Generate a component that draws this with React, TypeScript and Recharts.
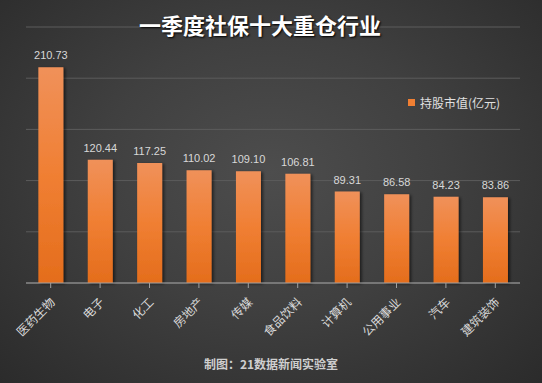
import React from 'react'
import { BarChart, Bar, XAxis, YAxis, CartesianGrid, LabelList } from 'recharts'

const industries = ['医药生物', '电子', '化工', '房地产', '传媒', '食品饮料', '计算机', '公用事业', '汽车', '建筑装饰']
const holdings = [210.73, 120.44, 117.25, 110.02, 109.1, 106.81, 89.31, 86.58, 84.23, 83.86]
const yTicks = [0, 50, 100, 150, 200, 250]

const data = industries.map((name, i) => ({ name, value: holdings[i] }))

const CJK = '"Noto Sans CJK SC", "Noto Sans", sans-serif'

function AngledTick({ x, y, payload }: any) {
  return (
    <text
      x={x + 5}
      y={y + 13}
      transform={`rotate(-45, ${x + 5}, ${y + 13})`}
      textAnchor="end"
      fill="#d8d8d8"
      fontSize={12}
      fontFamily={CJK}
    >
      {payload.value}
    </text>
  )
}

export default function App() {
  return (
    <div
      style={{
        position: 'absolute',
        left: 0,
        top: 0,
        width: 542,
        height: 383,
        overflow: 'hidden',
        background: 'radial-gradient(ellipse at 50% 45%, #4d4d4d 0%, #404040 45%, #2b2b2b 100%)',
      }}
    >
      <svg width={0} height={0} style={{ position: 'absolute' }}>
        <defs>
          <linearGradient id="barFill" x1="0" y1="0" x2="0" y2="1">
            <stop offset="0%" stopColor="#f0915a" />
            <stop offset="50%" stopColor="#f07f33" />
            <stop offset="100%" stopColor="#e46d1c" />
          </linearGradient>
          <filter id="barShadow" x="-20%" y="-5%" width="150%" height="110%">
            <feDropShadow dx={2} dy={1} stdDeviation={1.5} floodColor="#000" floodOpacity={0.55} />
          </filter>
        </defs>
      </svg>

      <BarChart
        width={542}
        height={383}
        data={data}
        margin={{ top: 27, right: 22, bottom: 40, left: 26 }}
        barCategoryGap="25%"
      >
        <CartesianGrid vertical={false} stroke="#5c5c5c" strokeWidth={1} />
        <YAxis hide domain={[0, 250]} ticks={yTicks} />
        <XAxis
          dataKey="name"
          height={60}
          interval={0}
          stroke="#a0a0a0"
          tickLine={{ stroke: '#a0a0a0' }}
          tickSize={5}
          tick={<AngledTick />}
          axisLine={{ stroke: '#a0a0a0' }}
        />
        <Bar dataKey="value" fill="url(#barFill)" filter="url(#barShadow)" isAnimationActive={false}>
          <LabelList
            dataKey="value"
            position="top"
            offset={8}
            formatter={(v: any) => Number(v).toFixed(2)}
            fill="#d8d8d8"
            fontSize={11}
            fontFamily='"Liberation Sans", sans-serif'
          />
        </Bar>
      </BarChart>

      <div
        style={{
          position: 'absolute',
          top: 6,
          left: -11,
          width: 542,
          textAlign: 'center',
          color: '#ffffff',
          fontFamily: CJK,
          fontWeight: 700,
          fontSize: 22,
          lineHeight: '36px',
          textShadow: '1px 1px 2px #000',
        }}
      >
        一季度社保十大重仓行业
      </div>

      <div
        style={{
          position: 'absolute',
          top: 94,
          left: 408,
          display: 'flex',
          alignItems: 'center',
          color: '#e0e0e0',
          fontFamily: CJK,
          fontSize: 12,
        }}
      >
        <span style={{ width: 7, height: 7, background: '#f07f33', marginRight: 5, display: 'inline-block' }} />
        持股市值(亿元)
      </div>

      <div
        style={{
          position: 'absolute',
          top: 355,
          left: 0,
          width: 542,
          textAlign: 'center',
          color: '#cfcfcf',
          fontFamily: CJK,
          fontWeight: 700,
          fontSize: 12,
        }}
      >
        制图：21数据新闻实验室
      </div>
    </div>
  )
}
